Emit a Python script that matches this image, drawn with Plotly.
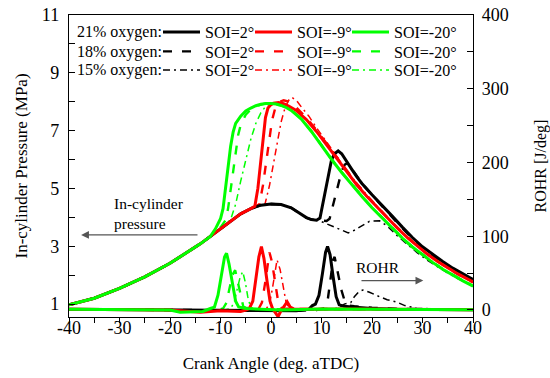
import plotly.graph_objects as go

# ---------------- data ----------------
# shared compression (motoring) part, crank angle deg aTDC / pressure MPa
comp_x = [-40, -35, -30, -25, -20, -15, -14, -13, -12]
comp_p = [0.97, 1.20, 1.54, 1.94, 2.41, 2.95, 3.08, 3.21, 3.34]
# motoring continuation (used until ignition)
mot_x = [-10, -8, -6, -4, -2, 0, 2, 4, 6, 7, 8, 9]
mot_p = [3.62, 3.88, 4.12, 4.30, 4.42, 4.46, 4.44, 4.33, 4.10, 3.99, 3.92, 3.90]

# ---- pressure, 21 % O2 ----
p21_soi2_x = [9.7, 10.8, 12.0, 12.6, 13.3, 14, 15, 16, 17, 18, 20, 22, 24, 26, 28, 30, 32, 34, 36, 38, 40]
p21_soi2_p = [3.97, 4.95, 6.00, 6.20, 6.30, 6.20, 5.95, 5.66, 5.40, 5.17, 4.78, 4.42, 4.04, 3.66, 3.30, 2.98, 2.71, 2.47, 2.24, 2.03, 1.85]
p21_soi9_x = [-3.2, -2.6, -2.1, -1.6, -1.1, -0.6, 0, 0.5, 1.5, 2.5, 3.5, 5, 7, 9, 11, 13, 15, 17, 19, 21, 23, 25, 27, 29, 31, 33, 35, 37, 40]
p21_soi9_p = [4.38, 5.00, 5.90, 6.80, 7.45, 7.78, 7.90, 7.95, 7.97, 7.93, 7.85, 7.70, 7.38, 6.97, 6.50, 6.02, 5.55, 5.12, 4.72, 4.35, 3.98, 3.63, 3.30, 3.00, 2.72, 2.47, 2.24, 2.04, 1.76]
p21_soi20_x = [-11, -10, -9.5, -9, -8.5, -8, -7.5, -7, -6, -5, -4, -3, -2, -1, 0, 1, 2, 3, 4, 6, 8, 10, 12, 14, 16, 18, 20, 22, 24, 26, 28, 30, 32, 34, 36, 38, 40]
p21_soi20_p = [3.60, 3.95, 4.30, 5.00, 5.80, 6.45, 6.95, 7.25, 7.50, 7.68, 7.78, 7.86, 7.91, 7.94, 7.94, 7.92, 7.87, 7.80, 7.70, 7.40, 6.97, 6.47, 6.00, 5.55, 5.12, 4.72, 4.33, 3.97, 3.62, 3.28, 2.97, 2.70, 2.44, 2.20, 1.99, 1.80, 1.62]

# ---- pressure, 18 % O2 ----
p18_soi2_x = [10, 11, 11.6, 12.2, 12.8, 13.4, 14, 14.6, 15.2, 16, 17, 18, 20, 22, 24, 26, 28, 30, 32, 34, 36, 38, 40]
p18_soi2_p = [3.88, 3.87, 3.95, 4.35, 4.80, 5.25, 5.60, 5.82, 5.88, 5.68, 5.42, 5.18, 4.77, 4.38, 4.00, 3.62, 3.27, 2.95, 2.68, 2.44, 2.22, 2.01, 1.83]
p18_soi9_x = [-2.3, -1.6, -1.0, -0.4, 0.2, 0.8, 1.5, 2.5, 3.5, 5, 7, 9, 11, 13, 15, 17, 19, 21, 23, 25, 27, 29, 31, 33, 35, 37, 40]
p18_soi9_p = [4.45, 5.10, 5.90, 6.70, 7.35, 7.75, 7.98, 8.05, 8.00, 7.80, 7.45, 7.02, 6.55, 6.07, 5.60, 5.16, 4.75, 4.37, 4.00, 3.65, 3.31, 3.00, 2.72, 2.47, 2.24, 2.03, 1.75]
p18_soi20_x = [-11, -10, -9, -8.5, -8, -7.5, -7, -6.5, -6, -5, -4, -3, -2, -1, 0, 2, 4, 6, 8, 10, 12, 14, 16, 18, 20, 22, 24, 26, 28, 30, 32, 34, 36, 38, 40]
p18_soi20_p = [3.48, 3.65, 3.90, 4.30, 4.95, 5.65, 6.30, 6.85, 7.20, 7.55, 7.73, 7.84, 7.90, 7.94, 7.95, 7.88, 7.71, 7.41, 6.98, 6.48, 6.01, 5.56, 5.13, 4.73, 4.34, 3.98, 3.63, 3.29, 2.98, 2.71, 2.45, 2.21, 2.00, 1.81, 1.63]

# ---- pressure, 15 % O2 ----
p15_soi2_x = [10, 12, 14, 15.3, 16.5, 18, 19.5, 21.5, 23, 25, 27, 29, 31, 33, 35, 37, 40]
p15_soi2_p = [3.85, 3.71, 3.55, 3.46, 3.55, 3.72, 3.86, 3.88, 3.70, 3.36, 3.05, 2.77, 2.51, 2.28, 2.07, 1.88, 1.62]
p15_soi9_x = [-1.2, -0.3, 0.5, 1.3, 2.0, 2.8, 3.5, 4.1, 5, 6, 7.5, 9, 11, 13, 15, 17, 19, 21, 23, 25, 27, 29, 31, 33, 35, 37, 40]
p15_soi9_p = [4.45, 5.10, 5.90, 6.70, 7.30, 7.80, 8.05, 8.15, 8.05, 7.82, 7.50, 7.10, 6.60, 6.10, 5.62, 5.17, 4.76, 4.38, 4.00, 3.65, 3.31, 3.00, 2.72, 2.47, 2.24, 2.03, 1.74]
p15_soi20_x = [-10, -9, -8, -7, -6, -5, -4, -3, -2, -1, 0, 1, 2, 4, 6, 8, 10, 12, 14, 16, 18, 20, 22, 24, 26, 28, 30, 32, 34, 36, 38, 40]
p15_soi20_p = [3.62, 3.76, 3.92, 4.45, 5.25, 6.00, 6.70, 7.25, 7.62, 7.85, 7.93, 7.93, 7.88, 7.72, 7.42, 6.99, 6.49, 6.02, 5.57, 5.14, 4.74, 4.35, 3.99, 3.64, 3.30, 2.99, 2.72, 2.46, 2.22, 2.01, 1.82, 1.64]

# ---------------- ROHR (J/deg) ----------------
r21_soi2_x = [-40, -20, -10, 0, 5, 7.5, 8.2, 8.8, 9.5, 10.2, 10.8, 11.2, 11.7, 12.3, 12.9, 13.5, 14.5, 16, 18, 20, 25, 30, 40]
r21_soi2_r = [1, 0.5, 0, -1, -1, 1, 6, 8, 20, 50, 78, 86, 75, 45, 18, 7, 5, 4, 3, 2, 1, 0.8, 0.5]
r21_soi9_x = [-40, -20, -16, -14, -10, -6, -5, -4.3, -3.6, -3.0, -2.4, -1.9, -1.4, -0.8, -0.2, 0.3, 0.9, 1.4, 1.9, 2.6, 3.2, 3.8, 4.5, 8, 15, 25, 40]
r21_soi9_r = [1, 0, -2, -3, -1, -2, 0, 2, 12, 40, 72, 86, 70, 40, 12, 2, -4, -9, -2, 5, 11, 4, 1.5, 1, 1.5, 1, 0.5]
r21_soi20_x = [-40, -20, -18, -15, -13.5, -12, -11.2, -10.5, -9.8, -9.2, -8.8, -8.3, -7.6, -7.0, -6.4, -5, -2, 2, 10, 20, 30, 40]
r21_soi20_r = [1, 0, -3, -3, -2, 2, 4, 20, 48, 72, 77, 62, 35, 12, 4, 2, 1, 0, 1.5, 1.5, 1, 0.5]

r18_soi2_x = [-40, -20, 0, 5, 9, 10.5, 11.2, 11.8, 12.3, 12.6, 13.2, 13.9, 14.6, 15.3, 16.5, 18, 20, 25, 30, 40]
r18_soi2_r = [1, 0.5, -1, -1, 0, 2, 12, 40, 68, 72, 50, 28, 12, 6, 5, 4, 3, 1.5, 1, 0.5]
r18_soi9_x = [-40, -20, -6, -2.5, -1.8, -1.2, -0.7, -0.3, 0.2, 0.8, 1.4, 2.0, 2.6, 5, 10, 20, 40]
r18_soi9_r = [1, 0, -1, 1, 10, 35, 62, 78, 65, 38, 12, 3, 2, 1.5, 1.5, 1, 0.5]
r18_soi20_x = [-40, -20, -15, -11, -9.5, -8.8, -8.2, -7.6, -7.1, -6.6, -6.1, -5.5, -5, -2, 5, 20, 40]
r18_soi20_r = [1, 0, -2, -1, 2, 10, 30, 48, 54, 40, 22, 5, 3, 1, 1, 1, 0.5]

r15_soi2_x = [-40, -20, 0, 10, 12, 13.5, 14.5, 15.2, 15.8, 16.5, 17.4, 18.2, 19.5, 21.5, 23, 24.8, 26.5, 28.8, 32, 40]
r15_soi2_r = [1, 0.5, -1, 0, 1, 3, 8, 9, 10, 18, 25, 27, 24, 18, 14, 11, 6, 2.5, 1.5, 0.8]
r15_soi9_x = [-40, -20, -5, -1, -0.3, 0.3, 0.8, 1.2, 1.8, 2.4, 3.0, 3.6, 4.2, 10, 20, 40]
r15_soi9_r = [1, 0, -1, 1, 8, 30, 55, 68, 55, 30, 10, 3, 1, 1.5, 1, 0.5]
r15_soi20_x = [-40, -20, -15, -10, -8, -7.3, -6.7, -6.1, -5.6, -5.1, -4.6, -4.1, -3.6, 0, 10, 20, 40]
r15_soi20_r = [1, 0, -2, -1, 2, 10, 28, 45, 52, 38, 18, 5, 2, 1, 1.5, 1, 0.5]

soi_labels = ["SOI=2°", "SOI=-9°", "SOI=-20°"]
oxygen_labels = ["21% oxygen:", "18% oxygen:", "15% oxygen:"]
x_tickvals = [-40, -30, -20, -10, 0, 10, 20, 30, 40]
x_ticktext = ["-40", "-30", "-20", "-10", "0", "10", "20", "30", "40"]
p_tickvals = [1, 3, 5, 7, 9, 11]
r_tickvals = [0, 100, 200, 300, 400]

# ---------------- styling ----------------
colors = ["#000000", "#FF0000", "#00FF00"]
dashes = ["solid", "9px,10px", "7px,4px,2px,4px"]
widths = [3.0, 2.4, 1.5]
FONT = "Liberation Serif, Times New Roman, serif"


def build_pressure(seg_x, seg_p):
    """compression part + (motoring until the segment starts) + combustion segment"""
    xs, ps = list(comp_x), list(comp_p)
    for mx, mp in zip(mot_x, mot_p):
        if mx < seg_x[0]:
            xs.append(mx)
            ps.append(mp)
    return xs + list(seg_x), ps + list(seg_p)


pressure = [
    [(p21_soi2_x, p21_soi2_p), (p21_soi9_x, p21_soi9_p), (p21_soi20_x, p21_soi20_p)],
    [(p18_soi2_x, p18_soi2_p), (p18_soi9_x, p18_soi9_p), (p18_soi20_x, p18_soi20_p)],
    [(p15_soi2_x, p15_soi2_p), (p15_soi9_x, p15_soi9_p), (p15_soi20_x, p15_soi20_p)],
]
rohr = [
    [(r21_soi2_x, r21_soi2_r), (r21_soi9_x, r21_soi9_r), (r21_soi20_x, r21_soi20_r)],
    [(r18_soi2_x, r18_soi2_r), (r18_soi9_x, r18_soi9_r), (r18_soi20_x, r18_soi20_r)],
    [(r15_soi2_x, r15_soi2_r), (r15_soi9_x, r15_soi9_r), (r15_soi20_x, r15_soi20_r)],
]

fig = go.Figure()

# plot area geometry (px) used only to place legends / labels
L, R, T, B = 69, 77, 15, 61
W, H = 550, 378
PW, PH = W - L - R, H - T - B


def px_to_paper_x(px):
    return (px - L) / PW


def py_to_paper_y(py):
    return 1 - (py - T) / PH


row_py = [32, 51.5, 70]
sample_px = [163, 255, 352]

legend_layout = {}
order = [2, 1, 0]  # draw dash-dot first, solid last
for row in order:
    for col in range(3):
        xs, ps = build_pressure(*pressure[row][col])
        idx = row * 3 + col
        lname = "legend" if idx == 0 else f"legend{idx + 1}"
        fig.add_trace(go.Scatter(
            x=xs, y=ps, mode="lines", name=soi_labels[col],
            line=dict(color=colors[col], width=widths[row], dash=dashes[row]),
            legend=lname, yaxis="y", hoverinfo="skip"))
        legend_layout[lname] = dict(
            x=px_to_paper_x(sample_px[col] - 5), xanchor="left",
            y=py_to_paper_y(row_py[row]), yanchor="middle",
            bgcolor="rgba(0,0,0,0)", borderwidth=0,
            itemwidth=37, tracegroupgap=0,
            font=dict(family=FONT, size=16, color="black"))

for row in order:
    for col in range(3):
        xs, rs = rohr[row][col]
        fig.add_trace(go.Scatter(
            x=xs, y=rs, mode="lines", showlegend=False,
            line=dict(color=colors[col], width=widths[row], dash=dashes[row]),
            yaxis="y2", hoverinfo="skip"))

annotations = []
for row in range(3):
    annotations.append(dict(
        xref="paper", yref="paper", x=px_to_paper_x(75), y=py_to_paper_y(row_py[row]),
        xanchor="left", yanchor="middle", text=oxygen_labels[row], showarrow=False,
        font=dict(family=FONT, size=16, color="black")))

annotations += [
    dict(xref="x", yref="y", x=-31.5, y=4.13, xanchor="left", yanchor="middle", align="left",
         text="In-cylinder<br>pressure", showarrow=False,
         font=dict(family=FONT, size=15.5, color="black")),
    dict(xref="x", yref="y", x=-37.6, y=3.39, ax=-14.26, ay=3.39, axref="x", ayref="y",
         text="", showarrow=True, arrowhead=2, arrowsize=1.3, arrowwidth=1.2,
         arrowcolor="#555555"),
    dict(xref="x", yref="y", x=21.2, y=2.28, xanchor="center", yanchor="middle",
         text="ROHR", showarrow=False, font=dict(family=FONT, size=15.5, color="black")),
    dict(xref="x", yref="y", x=30.16, y=1.81, ax=17.62, ay=1.81, axref="x", ayref="y",
         text="", showarrow=True, arrowhead=2, arrowsize=1.3, arrowwidth=1.2,
         arrowcolor="#555555"),
]

axis_common = dict(showgrid=False, zeroline=False, showline=True, linecolor="black",
                   linewidth=1.4, tickcolor="black", tickwidth=1.2, automargin=False,
                   tickfont=dict(family=FONT, size=18, color="black"))

fig.update_layout(
    width=W, height=H,
    margin=dict(l=L, r=R, t=T, b=B, pad=0, autoexpand=False),
    paper_bgcolor="white", plot_bgcolor="white",
    font=dict(family=FONT, color="black"),
    showlegend=True,
    annotations=annotations,
    xaxis=dict(range=[-40, 40], tickvals=x_tickvals, ticktext=x_ticktext,
               ticks="outside", ticklen=5, mirror=True,
               minor=dict(tickvals=[-35, -25, -15, -5, 5, 15, 25, 35], ticks="outside",
                          ticklen=5, tickcolor="black", tickwidth=1.2),
               ticklabelstandoff=-11,
               title=dict(text="Crank Angle (deg. aTDC)", standoff=20,
                          font=dict(family=FONT, size=17, color="black")),
               **axis_common),
    yaxis=dict(range=[0.55, 11], tickvals=p_tickvals, ticks="inside", ticklen=6,
               minor=dict(tickvals=[2, 4, 6, 8, 10], ticks="inside", ticklen=6,
                          tickcolor="black", tickwidth=1.2),
               ticklabelstandoff=5,
               title=dict(text="In-cylinder Pressure (MPa)", standoff=9,
                          font=dict(family=FONT, size=17, color="black")),
               **axis_common),
    yaxis2=dict(range=[-9.5, 400], overlaying="y", side="right", anchor="x",
                tickvals=r_tickvals, ticks="inside", ticklen=6,
                minor=dict(tickvals=[50, 150, 250, 350], ticks="inside", ticklen=6,
                           tickcolor="black", tickwidth=1.2),
                ticklabelstandoff=4,
                title=dict(text="ROHR [J/deg]", standoff=30,
                           font=dict(family=FONT, size=16, color="black")),
                **axis_common),
    **legend_layout,
)

fig.write_html("out.html")
